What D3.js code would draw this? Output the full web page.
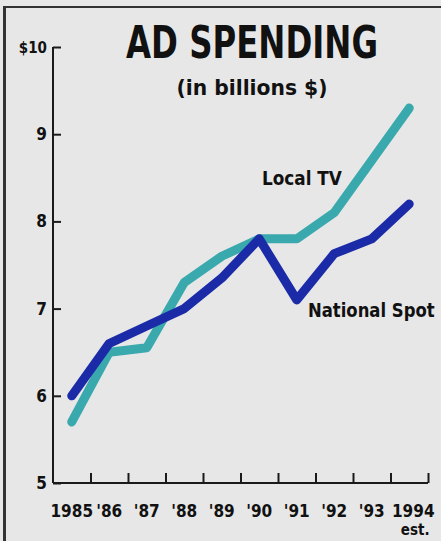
<!DOCTYPE html>
<html><head><meta charset="utf-8">
<script src="https://cdn.jsdelivr.net/npm/d3@7"></script>
<style>body{margin:0;background:#fff}svg{display:block}</style>
</head><body>
<script>
const years = ["1985","'86","'87","'88","'89","'90","'91","'92","'93","1994"];
const localTV = [5.7, 6.5, 6.55, 7.3, 7.6, 7.8, 7.8, 8.1, 8.7, 9.3];
const nationalSpot = [6.0, 6.6, 6.8, 7.0, 7.35, 7.8, 7.1, 7.63, 7.8, 8.2];
const yTicks = [5, 6, 7, 8, 9, 10];
const yTickLabels = ["5", "6", "7", "8", "9", "$10"];

const W = 441, H = 541;
const font = "'DejaVu Sans Condensed','Liberation Sans Narrow',Arial,sans-serif";
const svg = d3.select("body").append("svg").attr("width", W).attr("height", H);

svg.append("rect").attr("width", W).attr("height", H).attr("fill", "#e7e7e7");
svg.append("line").attr("x1", 4.5).attr("x2", 4.5).attr("y1", 7).attr("y2", H).attr("stroke", "#333").attr("stroke-width", 3);
svg.append("line").attr("x1", 3).attr("x2", W).attr("y1", 7).attr("y2", 7).attr("stroke", "#333").attr("stroke-width", 2);

const x = d3.scaleBand().domain(years).range([53, 428]);
const y = d3.scaleLinear().domain([5, 10]).range([483, 47]);

// fit text horizontally to a target width by scaling x (text stays real text)
function fitText(sel, x0, y0, width, anchor) {
  const w = sel.node().getBBox().width;
  const s = width / w;
  sel.attr("x", 0).attr("y", 0).attr("text-anchor", anchor)
     .attr("transform", `translate(${x0},${y0}) scale(${s},1)`);
}

// y axis
const yAxis = svg.append("g").attr("transform", "translate(53,0)")
  .call(d3.axisRight(y).tickValues(yTicks).tickSize(8).tickFormat(""));
yAxis.select(".domain").attr("d", `M0,${y(10)}V${y(5)}`).attr("stroke", "#1a1a1a").attr("stroke-width", 2);
yAxis.selectAll(".tick line").attr("stroke", "#1a1a1a").attr("stroke-width", 2);
svg.append("g").selectAll("text").data(yTicks).join("text")
  .attr("x", 47).attr("y", d => y(d) + 6)
  .attr("text-anchor", "end")
  .attr("font-family", font).attr("font-weight", "bold")
  .attr("font-size", d => d === 10 ? 15 : 17).attr("fill", "#111")
  .text((d, i) => yTickLabels[i]);

// x axis
const bounds = years.map(d => x(d) + x.bandwidth());
const xAxis = svg.append("g").attr("transform", `translate(0,${y(5)})`)
  .call(d3.axisTop(d3.scaleLinear().domain([53, 428]).range([53, 428])).tickValues(bounds).tickSize(10).tickFormat(""));
xAxis.select(".domain").attr("d", `M53,0H428`).attr("stroke", "#1a1a1a").attr("stroke-width", 2);
xAxis.selectAll(".tick line").attr("stroke", "#1a1a1a").attr("stroke-width", 2);
svg.append("g").selectAll("text").data(years).join("text")
  .attr("x", (d, i) => x(d) + x.bandwidth() / 2 + (i === 9 ? 4 : 0))
  .attr("y", 517)
  .attr("text-anchor", "middle")
  .attr("font-family", font).attr("font-weight", "bold").attr("font-size", 17).attr("fill", "#111")
  .text(d => d);
svg.append("text").attr("x", x("1994") + x.bandwidth() / 2 + 6).attr("y", 535)
  .attr("text-anchor", "middle").attr("font-family", font).attr("font-weight", "bold")
  .attr("font-size", 15).attr("fill", "#111").text("est.");

// lines
const line = d3.line().x((d, i) => x(years[i]) + x.bandwidth() / 2).y(d => y(d));
svg.append("path").datum(localTV).attr("d", line).attr("fill", "none")
  .attr("stroke", "#3aa9ad").attr("stroke-width", 9).attr("stroke-linecap", "round").attr("stroke-linejoin", "round");
svg.append("path").datum(nationalSpot).attr("d", line).attr("fill", "none")
  .attr("stroke", "#1b2ba8").attr("stroke-width", 9).attr("stroke-linecap", "round").attr("stroke-linejoin", "round");

// titles
const t1 = svg.append("text").attr("font-family", font).attr("font-weight", "bold")
  .attr("font-size", 45).attr("fill", "#111").text("AD SPENDING");
fitText(t1, 252, 58, 252, "middle");
const t2 = svg.append("text").attr("font-family", font).attr("font-weight", "bold")
  .attr("font-size", 22).attr("fill", "#111").text("(in billions $)");
fitText(t2, 252, 95, 151, "middle");

// labels
const l1 = svg.append("text").attr("font-family", font).attr("font-weight", "bold")
  .attr("font-size", 20).attr("fill", "#111").text("Local TV");
fitText(l1, 262, 185, 80, "start");
const l2 = svg.append("text").attr("font-family", font).attr("font-weight", "bold")
  .attr("font-size", 20).attr("fill", "#111").text("National Spot");
fitText(l2, 308, 317, 127, "start");
</script>
</body></html>
